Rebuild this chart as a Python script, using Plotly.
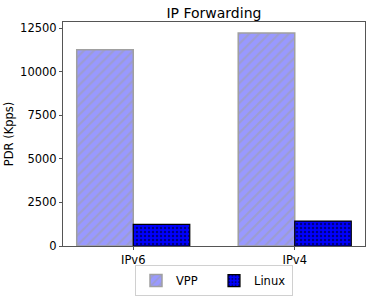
import plotly.graph_objects as go

categories = ["IPv6", "IPv4"]
vpp = [11270, 12230]
linux = [1240, 1430]
yticks = [0, 2500, 5000, 7500, 10000, 12500]
yticklabels = ["0", "2500", "5000", "7500", "10000", "12500"]

fig = go.Figure()
fig.add_trace(go.Bar(
    x=categories, y=vpp, name="VPP",
    marker=dict(color="#9999ff", line=dict(color="#a0a0a0", width=1.5),
                pattern=dict(shape="/", fgcolor="#a0a0a0", size=7, solidity=0.3)),
))
fig.add_trace(go.Bar(
    x=categories, y=linux, name="Linux",
    marker=dict(color="#0000ff", line=dict(color="black", width=1.2),
                pattern=dict(shape=".", fgcolor="black", size=4, solidity=0.3)),
))

font = "DejaVu Sans"
fig.update_layout(
    width=374, height=296,
    margin=dict(l=63, r=9, t=22, b=50, autoexpand=False),
    paper_bgcolor="white", plot_bgcolor="white",
    barmode="group", bargap=0.3, bargroupgap=0,
    font=dict(family=font, size=11.5, color="black"),
    title=dict(text="IP Forwarding", x=0.572, xanchor="center", y=0.955, yanchor="middle",
               font=dict(family=font, size=14, color="black")),
    showlegend=True,
    legend=dict(orientation="h", x=0.5, xanchor="center", y=-0.085, yanchor="top",
                bordercolor="#d0d0d0", borderwidth=1, font=dict(size=11.5),
                itemwidth=30, entrywidth=33, entrywidthmode="pixels", tracegroupgap=0),
)
fig.update_xaxes(range=[-0.435, 1.435], showline=True, linecolor="#555555", linewidth=1,
                 mirror=True, ticks="outside", ticklen=3, tickcolor="#555555",
                 tickfont=dict(size=11.5))
fig.update_yaxes(range=[0, 12860], tickvals=yticks, ticktext=yticklabels, showline=True,
                 linecolor="#555555", linewidth=1, mirror=True, ticks="outside", ticklen=3,
                 tickcolor="#555555", showgrid=False, zeroline=False,
                 title=dict(text="PDR (Kpps)", font=dict(size=11.5), standoff=4),
                 tickfont=dict(size=11.5))

fig.write_html("out.html", config={"displayModeBar": False},
               post_script="document.body.style.margin='0';")
